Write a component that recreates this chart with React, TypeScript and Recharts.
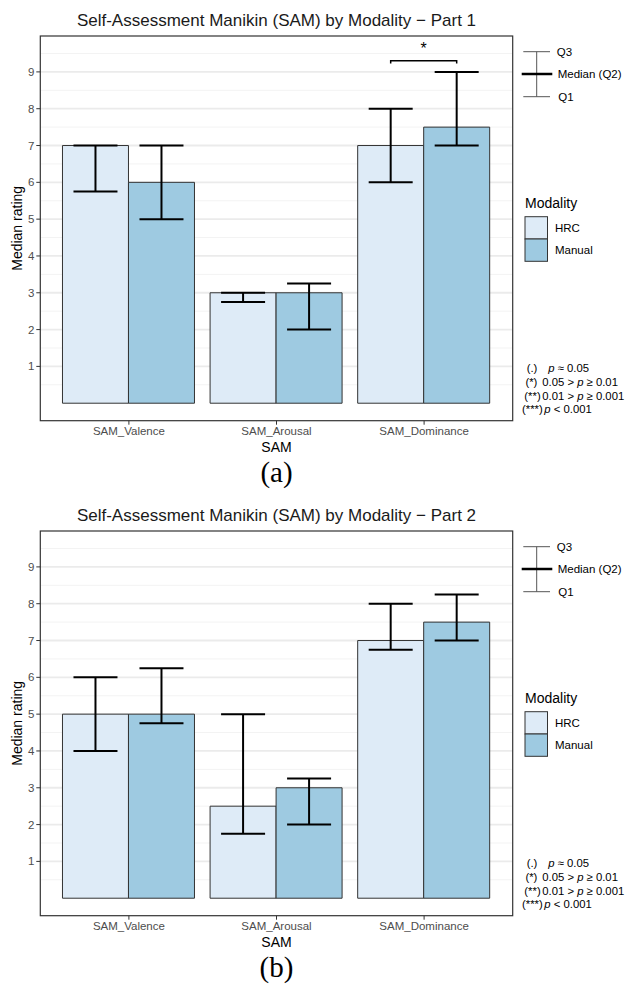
import React from 'react';
import { BarChart, Bar, XAxis, YAxis, CartesianGrid, ErrorBar, Rectangle } from 'recharts';

const categories = ['SAM_Valence', 'SAM_Arousal', 'SAM_Dominance'];

// Part 1 (a)
const hrcMedianP1 = [7, 3, 7];
const hrcQ1P1 = [5.75, 2.75, 6];
const hrcQ3P1 = [7, 3, 8];
const manualMedianP1 = [6, 3, 7.5];
const manualQ1P1 = [5, 2, 7];
const manualQ3P1 = [7, 3.25, 9];
const sigLevelP1 = [null, null, 9.3];
const sigLabelP1 = ['', '', '*'];

// Part 2 (b)
const hrcMedianP2 = [5, 2.5, 7];
const hrcQ1P2 = [4, 1.75, 6.75];
const hrcQ3P2 = [6, 5, 8];
const manualMedianP2 = [5, 3, 7.5];
const manualQ1P2 = [4.75, 2, 7];
const manualQ3P2 = [6.25, 3.25, 8.25];
const sigLevelP2 = [null, null, null];
const sigLabelP2 = ['', '', ''];

const yTicks = [1, 2, 3, 4, 5, 6, 7, 8, 9];
const minorGrid = [0.5, 1.5, 2.5, 3.5, 4.5, 5.5, 6.5, 7.5, 8.5, 9.5];
const yDomain = [-0.475, 9.975];

const pNotes = [
  { tag: '(.)', text: ['', 'p', ' ≈ 0.05'] },
  { tag: '(*)', text: ['0.05 > ', 'p', ' ≥ 0.01'] },
  { tag: '(**)', text: ['0.01 > ', 'p', ' ≥ 0.001'] },
  { tag: '(***)', text: ['', 'p', ' < 0.001'] },
];
// the notes are hand-placed in the original: tag right edge, text start, baseline
const pNoteTagEnd = [537.3, 537.3, 540.7, 542.7];
const pNoteTextX = [548.3, 542.3, 542.3, 544.3];
const pNoteY = [372.2, 385.5, 399.5, 412.8];

const FONT = '"Liberation Sans", Arial, Helvetica, sans-serif';
const HRC_FILL = '#deebf7';
const MANUAL_FILL = '#9ecae1';
const EDGE = '#333333';

// plot area in px (same for both panels)
const W = 629;
const H = 494.5;
const PL = 40.3;
const PT = 36;
const PR = 512.7;
const PB = 420.7;

function buildRows(
  hrcMed: number[], hrcQ1: number[], hrcQ3: number[],
  manMed: number[], manQ1: number[], manQ3: number[],
  sigLevel: (number | null)[], sigLabel: string[],
) {
  return categories.map((name, i) => ({
    name,
    hrc: hrcMed[i],
    manual: manMed[i],
    hrcErr: [hrcMed[i] - hrcQ1[i], hrcQ3[i] - hrcMed[i]],
    manualErr: [manMed[i] - manQ1[i], manQ3[i] - manMed[i]],
    sigLevel: sigLevel[i],
    sigLabel: sigLabel[i],
  }));
}

const rowsP1 = buildRows(hrcMedianP1, hrcQ1P1, hrcQ3P1, manualMedianP1, manualQ1P1, manualQ3P1, sigLevelP1, sigLabelP1);
const rowsP2 = buildRows(hrcMedianP2, hrcQ1P2, hrcQ3P2, manualMedianP2, manualQ1P2, manualQ3P2, sigLevelP2, sigLabelP2);

// HRC bar + significance bracket spanning to the neighbouring Manual bar
const HrcShape = (props: any) => {
  const { x, y, width, height, payload, fill, stroke } = props;
  const level = payload?.sigLevel;
  const rect = <Rectangle x={x} y={y} width={width} height={height} fill={fill} stroke={stroke} strokeWidth={1} />;
  if (level == null || !payload.hrc) return rect;
  const unit = height / payload.hrc;
  const base = y + height;
  const by = base - level * unit;
  const leg = by + 0.07 * unit;
  const x1 = x + width / 2;
  const x2 = x + width * 1.5;
  return (
    <g>
      {rect}
      <path d={`M${x1},${leg}L${x1},${by}L${x2},${by}L${x2},${leg}`} fill="none" stroke="#000" strokeWidth={1.5} />
      <text x={x + width} y={by - 7} textAnchor="middle" fontSize={16} fontFamily={FONT} fill="#000">
        {payload.sigLabel}
      </text>
    </g>
  );
};

const tickStyle = { fill: '#4d4d4d', fontSize: 11.5, fontFamily: FONT };

function SamPanel({ title, caption, rows }: { title: string; caption: string; rows: any[] }) {
  const cx = (PL + PR) / 2;
  return (
    <div style={{ position: 'relative', width: W, height: H }}>
      <BarChart
        width={W}
        height={H}
        data={rows}
        margin={{ top: PT, right: W - PR, bottom: H - PB - 30, left: 0 }}
        barGap={0}
        barCategoryGap="5%"
      >
        <CartesianGrid vertical={false} horizontalValues={minorGrid} stroke="#f3f3f3" strokeWidth={1} />
        <CartesianGrid vertical={false} horizontalValues={yTicks} stroke="#ebebeb" strokeWidth={1.8} />
        <XAxis
          dataKey="name"
          type="category"
          padding={{ left: 14.8, right: 14.8 }}
          axisLine={false}
          tickLine={{ stroke: EDGE }}
          tickSize={4}
          tickMargin={2}
          height={30}
          interval={0}
          tick={tickStyle}
        />
        <YAxis
          type="number"
          domain={yDomain}
          allowDataOverflow
          ticks={yTicks}
          interval={0}
          width={PL}
          axisLine={false}
          tickLine={{ stroke: EDGE }}
          tickSize={4}
          tickMargin={2}
          tick={tickStyle}
        />
        <Bar dataKey="hrc" fill={HRC_FILL} stroke={EDGE} isAnimationActive={false} shape={HrcShape}>
          <ErrorBar dataKey="hrcErr" width={22} stroke="#000" strokeWidth={2} isAnimationActive={false} />
        </Bar>
        <Bar dataKey="manual" fill={MANUAL_FILL} stroke={EDGE} strokeWidth={1} isAnimationActive={false}>
          <ErrorBar dataKey="manualErr" width={22} stroke="#000" strokeWidth={2} isAnimationActive={false} />
        </Bar>
      </BarChart>
      <svg
        width={W}
        height={H}
        style={{ position: 'absolute', left: 0, top: 0, pointerEvents: 'none' }}
        fontFamily={FONT}
      >
        <rect x={PL} y={PT} width={PR - PL} height={PB - PT} fill="none" stroke={EDGE} strokeWidth={1.2} />
        <text x={cx} y={26.1} textAnchor="middle" fontSize={17} fill="#1a1a1a">{title}</text>
        <text x={22} y={(PT + PB) / 2} textAnchor="middle" fontSize={14} fill="#000"
          transform={`rotate(-90, 22, ${(PT + PB) / 2})`}>Median rating</text>
        <text x={cx} y={452.3} textAnchor="middle" fontSize={14} fill="#000">SAM</text>
        <text x={cx} y={481.5} textAnchor="middle" fontSize={29} fill="#000"
          fontFamily='"Liberation Serif", "Times New Roman", serif'>{caption}</text>

        {/* error bar key */}
        <line x1={536.7} y1={51.7} x2={536.7} y2={96.7} stroke="#555" strokeWidth={1} />
        <line x1={523.3} y1={51.7} x2={550} y2={51.7} stroke="#555" strokeWidth={1} />
        <line x1={523.3} y1={96.7} x2={550} y2={96.7} stroke="#555" strokeWidth={1} />
        <line x1={521.7} y1={74} x2={552.3} y2={74} stroke="#000" strokeWidth={2.5} />
        <text x={556.7} y={56} fontSize={11.5} fill="#000">Q3</text>
        <text x={557.7} y={78} fontSize={11.5} fill="#000">Median (Q2)</text>
        <text x={558.3} y={101} fontSize={11.5} fill="#000">Q1</text>

        {/* fill legend */}
        <text x={525} y={207.7} fontSize={14} fill="#000">Modality</text>
        <rect x={525} y={216.7} width={22.5} height={22.3} fill={HRC_FILL} stroke={EDGE} strokeWidth={1} />
        <rect x={525} y={239} width={22.5} height={22.3} fill={MANUAL_FILL} stroke={EDGE} strokeWidth={1} />
        <text x={555} y={232.4} fontSize={11.5} fill="#000">HRC</text>
        <text x={555} y={254.1} fontSize={11.5} fill="#000">Manual</text>

        {/* significance notes */}
        {pNotes.map((n, i) => (
          <g key={n.tag}>
            <text x={pNoteTagEnd[i]} y={pNoteY[i]} textAnchor="end" fontSize={11.3} fill="#000">{n.tag}</text>
            <text x={pNoteTextX[i]} y={pNoteY[i]} fontSize={11.3} fill="#000">
              {n.text[0]}
              <tspan fontStyle="italic">{n.text[1]}</tspan>
              {n.text[2]}
            </text>
          </g>
        ))}
      </svg>
    </div>
  );
}

export default function App() {
  return (
    <div style={{ width: W, background: '#fff' }}>
      <style>{'body{margin:0;background:#fff}'}</style>
      <SamPanel title="Self‑Assessment Manikin (SAM) by Modality − Part 1" caption="(a)" rows={rowsP1} />
      <SamPanel title="Self‑Assessment Manikin (SAM) by Modality − Part 2" caption="(b)" rows={rowsP2} />
    </div>
  );
}
